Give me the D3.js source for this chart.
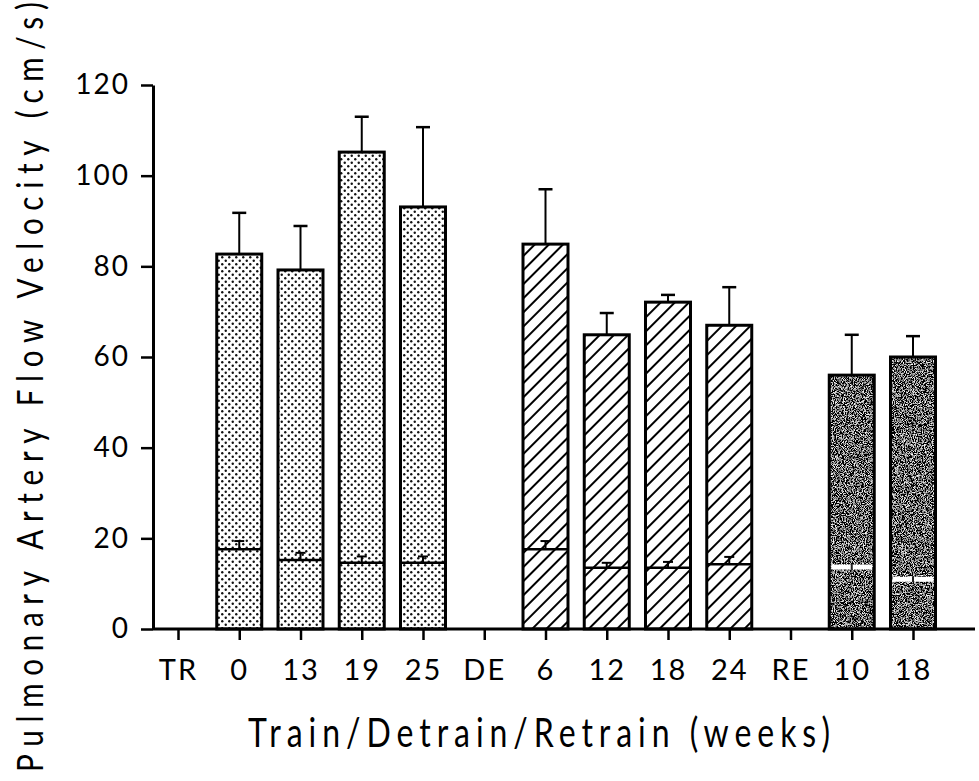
<!DOCTYPE html>
<html>
<head>
<meta charset="utf-8">
<script src="https://cdnjs.cloudflare.com/ajax/libs/d3/7.8.5/d3.min.js"></script>
<style>
  body { margin: 0; background: #fff; }
  svg text { font-family: Lato, "DejaVu Sans", sans-serif; fill: #000; }
</style>
</head>
<body>
<svg id="chart" width="979" height="781"></svg>
<script>
// x categories (slot labels), the phase labels TR/DE/RE have no bar
var slotLabels = ["TR", "0", "13", "19", "25", "DE", "6", "12", "18", "24", "RE", "10", "18"];
var barSlots = [1, 2, 3, 4, 6, 7, 8, 9, 11, 12];
var barPhase = ["train", "train", "train", "train", "detrain", "detrain", "detrain", "detrain", "retrain", "retrain"];
// upper value (bar height) and its SE
var upperMean = [82.7, 79.2, 105.2, 93.1, 84.9, 64.9, 72.1, 67.0, 56.0, 60.0];
var upperSE = [9.1, 9.7, 7.8, 17.6, 12.1, 4.8, 1.6, 8.4, 8.9, 4.6];
// lower value (line inside the bar) and its SE
var lowerMean = [17.6, 15.2, 14.6, 14.6, 17.6, 13.5, 13.5, 14.3, 13.7, 11.0];
var lowerSE = [1.8, 1.6, 1.4, 1.4, 1.8, 1.1, 1.3, 1.6, 1.5, 1.5];
var yTicks = [0, 20, 40, 60, 80, 100, 120];

var svg = d3.select("#chart");

var x = d3.scalePoint()
    .domain(d3.range(slotLabels.length))
    .range([178, 913]);
var y = d3.scaleLinear()
    .domain([0, 120])
    .range([629, 85]);
var barW = 45;
var squeeze = 0.8; // narrow letters like the original lettering

// patterns
var defs = svg.append("defs");
var dots = defs.append("pattern")
    .attr("id", "dots")
    .attr("patternUnits", "userSpaceOnUse")
    .attr("width", 7).attr("height", 7);
dots.append("rect").attr("width", 7).attr("height", 7).attr("fill", "#fff");
dots.append("circle").attr("cx", 1.75).attr("cy", 1.75).attr("r", 1.2).attr("fill", "#111");
dots.append("circle").attr("cx", 5.25).attr("cy", 5.25).attr("r", 1.2).attr("fill", "#111");

var hatch = defs.append("pattern")
    .attr("id", "hatch")
    .attr("patternUnits", "userSpaceOnUse")
    .attr("width", 10).attr("height", 10)
    .attr("patternTransform", "rotate(45)");
hatch.append("rect").attr("width", 10).attr("height", 10).attr("fill", "#fff");
hatch.append("line").attr("x1", 1).attr("y1", 0).attr("x2", 1).attr("y2", 10)
    .attr("stroke", "#000").attr("stroke-width", 2);

var noise = defs.append("filter").attr("id", "noise")
    .attr("x", 0).attr("y", 0).attr("width", 1).attr("height", 1);
noise.append("feTurbulence").attr("type", "fractalNoise")
    .attr("baseFrequency", 1.1).attr("numOctaves", 2).attr("seed", 3).attr("result", "n");
noise.append("feColorMatrix").attr("in", "n").attr("type", "matrix")
    .attr("values", "3.2 0 0 0 -1.45  3.2 0 0 0 -1.45  3.2 0 0 0 -1.45  0 0 0 0 1")
    .attr("result", "g");
noise.append("feComposite").attr("in", "g").attr("in2", "SourceGraphic").attr("operator", "in");

var fills = { train: "url(#dots)", detrain: "url(#hatch)", retrain: "#333" };

var bars = barSlots.map(function (s, i) {
    return { slot: s, phase: barPhase[i], up: upperMean[i], upSE: upperSE[i], lo: lowerMean[i], loSE: lowerSE[i] };
});

// error bars above the bars
var eb = svg.append("g").attr("stroke", "#000").attr("stroke-width", 2);
eb.selectAll("line.v").data(bars).enter().append("line")
    .attr("x1", function (d) { return x(d.slot); })
    .attr("x2", function (d) { return x(d.slot); })
    .attr("y1", function (d) { return y(d.up); })
    .attr("y2", function (d) { return y(d.up + d.upSE); });
eb.selectAll("line.c").data(bars).enter().append("line")
    .attr("x1", function (d) { return x(d.slot) - 7; })
    .attr("x2", function (d) { return x(d.slot) + 7; })
    .attr("y1", function (d) { return y(d.up + d.upSE); })
    .attr("y2", function (d) { return y(d.up + d.upSE); })
    .attr("stroke-width", 2.5);

// bars
var g = svg.append("g");
g.selectAll("rect.fill").data(bars).enter().append("rect")
    .attr("x", function (d) { return x(d.slot) - barW / 2; })
    .attr("y", function (d) { return y(d.up); })
    .attr("width", barW)
    .attr("height", function (d) { return y(0) - y(d.up); })
    .attr("fill", function (d) { return fills[d.phase]; })
    .attr("filter", function (d) { return d.phase == "retrain" ? "url(#noise)" : null; });
g.selectAll("rect.out").data(bars).enter().append("rect")
    .attr("x", function (d) { return x(d.slot) - barW / 2; })
    .attr("y", function (d) { return y(d.up); })
    .attr("width", barW)
    .attr("height", function (d) { return y(0) - y(d.up); })
    .attr("fill", "none")
    .attr("stroke", "#000")
    .attr("stroke-width", 3);

// inner line for lower value with small error bar
var lo = svg.append("g");
lo.selectAll("line.lo").data(bars).enter().append("line")
    .attr("x1", function (d) { return x(d.slot) - barW / 2 + (d.phase == "retrain" ? 2 : 0); })
    .attr("x2", function (d) { return x(d.slot) + barW / 2 - (d.phase == "retrain" ? 2 : 0); })
    .attr("y1", function (d) { return y(d.lo); })
    .attr("y2", function (d) { return y(d.lo); })
    .attr("stroke", function (d) { return d.phase == "retrain" ? "#fff" : "#000"; })
    .attr("stroke-width", function (d) { return d.phase == "retrain" ? 5 : 2.5; });
lo.selectAll("line.lov").data(bars).enter().append("line")
    .attr("x1", function (d) { return x(d.slot); })
    .attr("x2", function (d) { return x(d.slot); })
    .attr("y1", function (d) { return d.phase == "retrain" ? y(d.lo) + 3 : y(d.lo); })
    .attr("y2", function (d) { return d.phase == "retrain" ? y(d.lo) - 3 : y(d.lo + d.loSE); })
    .attr("stroke", function (d) { return d.phase == "retrain" ? "#222" : "#000"; })
    .attr("stroke-width", 2);
lo.selectAll("line.loc").data(bars.filter(function (d) { return d.phase != "retrain"; })).enter().append("line")
    .attr("x1", function (d) { return x(d.slot) - 5; })
    .attr("x2", function (d) { return x(d.slot) + 5; })
    .attr("y1", function (d) { return y(d.lo + d.loSE); })
    .attr("y2", function (d) { return y(d.lo + d.loSE); })
    .attr("stroke", "#000")
    .attr("stroke-width", 2);

// y axis
var yAxis = svg.append("g")
    .attr("transform", "translate(153,0)")
    .call(d3.axisLeft(y).tickValues(yTicks).tickSize(12).tickSizeOuter(0).tickPadding(11));
yAxis.select(".domain").attr("stroke-width", 3);
yAxis.selectAll(".tick line").attr("stroke-width", 2.5);
yAxis.selectAll(".tick text").attr("font-size", 28).attr("letter-spacing", 2)
    .attr("font-family", "Lato, sans-serif");

// x axis
var xAxis = svg.append("g")
    .attr("transform", "translate(0,629)")
    .call(d3.axisBottom(x).tickFormat(function (i) { return slotLabels[i]; }).tickSize(11).tickSizeOuter(0).tickPadding(19));
xAxis.select(".domain").attr("d", "M153,0H975").attr("stroke-width", 3);
xAxis.selectAll(".tick line").attr("stroke-width", 2.5);
xAxis.selectAll(".tick text").attr("font-size", 29).attr("letter-spacing", 2)
    .attr("font-family", "Lato, sans-serif");

// titles
svg.append("text")
    .attr("transform", "translate(539,747) scale(" + squeeze + ",1)")
    .attr("text-anchor", "middle")
    .attr("font-size", 40)
    .attr("textLength", 582 / squeeze)
    .attr("lengthAdjust", "spacing")
    .text("Train/Detrain/Retrain (weeks)");
svg.append("text")
    .attr("transform", "translate(43,387) rotate(-90) scale(" + squeeze + ",1)")
    .attr("text-anchor", "middle")
    .attr("font-size", 37)
    .attr("textLength", 770 / squeeze)
    .attr("lengthAdjust", "spacing")
    .text("Pulmonary Artery Flow Velocity (cm/s)");
</script>
</body>
</html>
